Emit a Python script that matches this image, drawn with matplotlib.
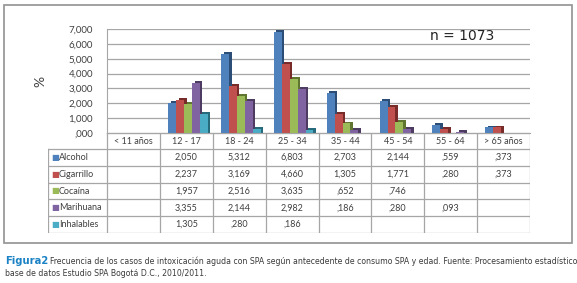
import numpy as np
import matplotlib
matplotlib.use("Agg")
import matplotlib.pyplot as plt
from matplotlib.patches import Rectangle
from matplotlib import font_manager

# data
groups = ["< 11 años", "12 - 17", "18 - 24", "25 - 34", "35 - 44", "45 - 54", "55 - 64", "> 65 años"]
series = ["Alcohol", "Cigarrillo", "Cocaína", "Marihuana", "Inhalables"]
alcohol = [np.nan, 2.050, 5.312, 6.803, 2.703, 2.144, 0.559, 0.373]
cigarrillo = [np.nan, 2.237, 3.169, 4.660, 1.305, 1.771, 0.280, 0.373]
cocaina = [np.nan, 1.957, 2.516, 3.635, 0.652, 0.746, np.nan, np.nan]
marihuana = [np.nan, 3.355, 2.144, 2.982, 0.186, 0.280, 0.093, np.nan]
inhalables = [np.nan, 1.305, 0.280, 0.186, np.nan, np.nan, np.nan, np.nan]
values = [alcohol, cigarrillo, cocaina, marihuana, inhalables]
y_ticks = [0, 1, 2, 3, 4, 5, 6, 7]

colors = ["#4F81BD", "#C0504D", "#9BBB59", "#8064A2", "#4BACC6"]
side_colors = ["#2C4D75", "#772C2A", "#5F7530", "#4D3B62", "#276A7C"]

names = {f.name for f in font_manager.fontManager.ttflist}
base_font = "Lato" if "Lato" in names else "DejaVu Sans"
narrow = [f for f in font_manager.fontManager.ttflist
          if f.name in ("Liberation Sans Narrow", "DejaVu Sans") and f.stretch in ("condensed", "semi-condensed")
          or f.name == "Liberation Sans Narrow"]
if narrow:
    cap_font, cap_stretch = narrow[0].name, narrow[0].stretch
else:
    cap_font, cap_stretch = "Liberation Sans", "normal"
plt.rcParams["font.family"] = [base_font, "DejaVu Sans"]

W, H = 577, 283
fig = plt.figure(figsize=(W / 100, H / 100), dpi=100)


def fx(px):
    return px / W


def fy(py):
    return 1 - py / H


def fmt(v):
    s = f"{v:.3f}".replace(".", ",")
    return s[1:] if s.startswith("0") else s


# outer frame
fig.patches.append(Rectangle((fx(4), fy(243)), fx(568), 238 / H, transform=fig.transFigure,
                             fill=False, edgecolor="#9a9a9a", linewidth=1.3))

# chart area
ax = fig.add_axes([fx(107), fy(133), fx(423), 104 / H])
x = np.arange(len(groups))
bw = 0.15
depth_x, depth_y = 0.05, 0.12
for i, (name, vals) in enumerate(zip(series, values)):
    pos = x + (i - 2) * bw + 0.03
    v = np.array(vals)
    ax.bar(pos + depth_x, v + depth_y, bw, bottom=0, color=side_colors[i], zorder=2 + i * 0.1,
           linewidth=0)
    ax.bar(pos, v, bw, color=colors[i], zorder=2.05 + i * 0.1, linewidth=0, label=name)

ax.set_xlim(-0.5, len(groups) - 0.5)
ax.set_ylim(0, 7)
ax.set_yticks(y_ticks)
ax.set_yticklabels([fmt(t) for t in y_ticks], fontsize=7, color="#404040")
ax.tick_params(axis="y", length=0, pad=10)
ax.set_xticks([])
ax.grid(axis="y", color="#a6a6a6", linewidth=0.9, zorder=0)
ax.set_axisbelow(True)
for side in ["top", "right"]:
    ax.spines[side].set_visible(False)
ax.spines["left"].set_color("#a6a6a6")
ax.spines["bottom"].set_color("#a6a6a6")
ax.set_ylabel("%", fontsize=10, color="#404040", labelpad=16)
ax.text(0.84, 0.93, "n = 1073", transform=ax.transAxes, fontsize=10, color="#222222",
        ha="center", va="center", family="DejaVu Sans")

# data table under the chart
tx = fig.add_axes([fx(48), fy(233), fx(482), 100 / H])
tx.set_xlim(48, 530)
tx.set_ylim(233, 133)
tx.axis("off")
col_edges = np.linspace(107, 530, len(groups) + 1)
row_edges = np.linspace(149, 233, len(series) + 1)
lc = "#a6a6a6"
tx.plot([107, 530], [133, 133], color=lc, lw=0.9)
for r in row_edges:
    tx.plot([48, 530], [r, r], color=lc, lw=0.9)
tx.plot([48, 48], [149, 233], color=lc, lw=0.9)
for c in col_edges:
    tx.plot([c, c], [133, 233], color=lc, lw=0.9)
centers = (col_edges[:-1] + col_edges[1:]) / 2
for c, g in zip(centers, groups):
    tx.text(c, 141, g, ha="center", va="center", fontsize=6.5, color="#404040")
for i, (name, vals) in enumerate(zip(series, values)):
    yc = (row_edges[i] + row_edges[i + 1]) / 2
    tx.text(51, yc, "■", ha="left", va="center", fontsize=6, color=colors[i], family="DejaVu Sans")
    tx.text(59, yc, name, ha="left", va="center", fontsize=6.5, color="#404040")
    for c, v in zip(centers, vals):
        if not np.isnan(v):
            tx.text(c, yc, fmt(v), ha="center", va="center", fontsize=6.5, color="#404040")

# caption
cap_kw = dict(va="center", family=cap_font, fontstretch=cap_stretch)
t1 = fig.text(fx(5), fy(261), "Figura2", fontsize=8, fontweight="bold", color="#1B82C5", **cap_kw)
fig.canvas.draw()
bb = t1.get_window_extent()
t2 = fig.text(bb.x1 / W + fx(2), fy(261),
              "Frecuencia de los casos de intoxicación aguda con SPA según antecedente de consumo SPA y edad. "
              "Fuente: Procesamiento estadístico",
              fontsize=8, color="#3a3a3a", **cap_kw)
t3 = fig.text(fx(5), fy(274), "base de datos Estudio SPA Bogotá D.C., 2010/2011.",
              fontsize=8, color="#3a3a3a", **cap_kw)
fig.canvas.draw()
right = t2.get_window_extent().x1
if right > 573:
    scale = (573 - bb.x1 - 2) / (right - bb.x1 - 2)
    t2.set_fontsize(8 * scale)
    t3.set_fontsize(8 * scale)

fig.savefig("out.png", dpi=100)
